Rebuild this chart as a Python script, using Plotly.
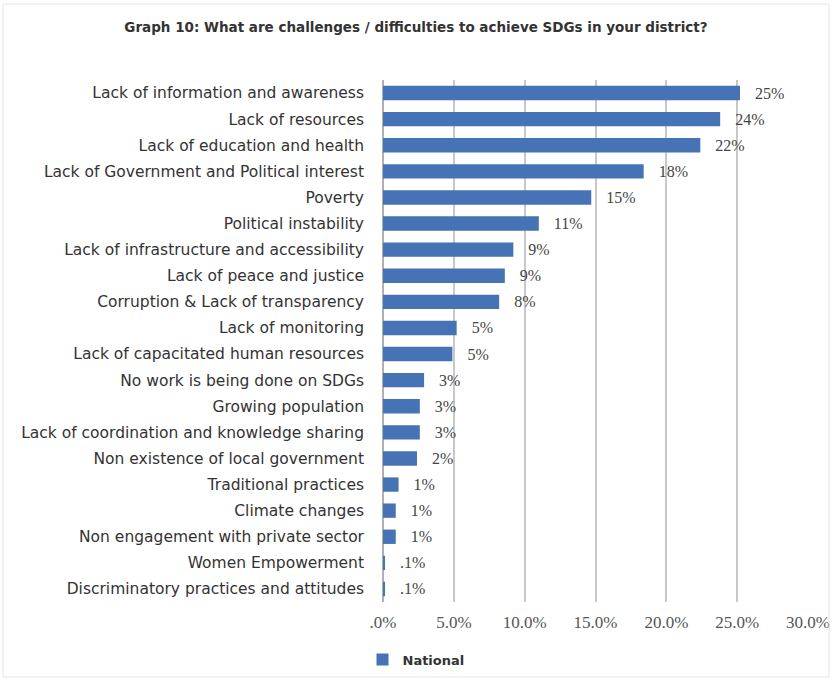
import plotly.graph_objects as go

# Survey responses: challenges to achieving SDGs (share of respondents, %)
categories = [
    "Lack of information and awareness",
    "Lack of resources",
    "Lack of education and health",
    "Lack of Government and Political interest",
    "Poverty",
    "Political instability",
    "Lack of infrastructure and accessibility",
    "Lack of peace and justice",
    "Corruption & Lack of transparency",
    "Lack of monitoring",
    "Lack of capacitated human resources",
    "No work is being done on SDGs",
    "Growing population",
    "Lack of coordination and knowledge sharing",
    "Non existence of local government",
    "Traditional practices",
    "Climate changes",
    "Non engagement with private sector",
    "Women Empowerment",
    "Discriminatory practices and attitudes",
]
national = [25.2, 23.8, 22.4, 18.4, 14.7, 11.0, 9.2, 8.6, 8.2, 5.2,
            4.9, 2.9, 2.6, 2.6, 2.4, 1.1, 0.9, 0.9, 0.1, 0.1]

tick_vals = [0, 5, 10, 15, 20, 25, 30]
tick_text = [".0%", "5.0%", "10.0%", "15.0%", "20.0%", "25.0%", "30.0%"]


def fmt(v):
    if v < 0.5:
        return "   " + f"{v:.1f}%".lstrip("0")
    return "   " + f"{round(v):.0f}%"


labels = [fmt(v) for v in national]

fig = go.Figure()
fig.add_trace(go.Bar(
    x=national,
    y=categories,
    orientation="h",
    name="National",
    marker=dict(color="#4673B5", line=dict(width=0)),
    width=0.55,
    text=labels,
    textposition="outside",
    constraintext="none",
    cliponaxis=False,
    textfont=dict(family="Liberation Serif", size=16, color="#444444"),
))

fig.update_layout(
    width=832,
    height=680,
    paper_bgcolor="white",
    plot_bgcolor="white",
    margin=dict(l=383, r=24, t=80, b=78),
    title=dict(
        text="<b>Graph 10: What are challenges / difficulties to achieve SDGs in your district?</b>",
        x=0.5, xanchor="center", y=0.96, yanchor="middle",
        font=dict(family="DejaVu Sans", size=13.5, color="#333333"),
    ),
    xaxis=dict(
        range=[0, 30],
        tickvals=tick_vals,
        ticktext=tick_text,
        automargin=False,
        showgrid=True,
        gridcolor="#c8c8c8",
        gridwidth=1.5,
        zeroline=True,
        zerolinecolor="#b0b0b0",
        zerolinewidth=1.5,
        showline=False,
        ticks="",
        ticklabelstandoff=8,
        tickfont=dict(family="Liberation Serif", size=17, color="#555555"),
    ),
    yaxis=dict(
        autorange="reversed",
        automargin=False,
        showgrid=False,
        zeroline=False,
        showline=False,
        ticks="",
        ticklabelstandoff=18,
        tickfont=dict(family="DejaVu Sans", size=15.5, color="#333333"),
    ),
    showlegend=True,
    legend=dict(
        orientation="h",
        x=0.5, xref="container", xanchor="center",
        y=0.03, yref="container", yanchor="middle",
        font=dict(family="DejaVu Sans", size=13, color="#333333", weight="bold"),
        itemwidth=30,
    ),
    shapes=[dict(
        type="rect", xref="paper", yref="paper",
        x0=-380 / 425, x1=1 + 21 / 425, y0=-75 / 522, y1=1 + 76 / 522,
        line=dict(color="#e4e4e4", width=1),
    )],
)

fig.write_html("out.html")
